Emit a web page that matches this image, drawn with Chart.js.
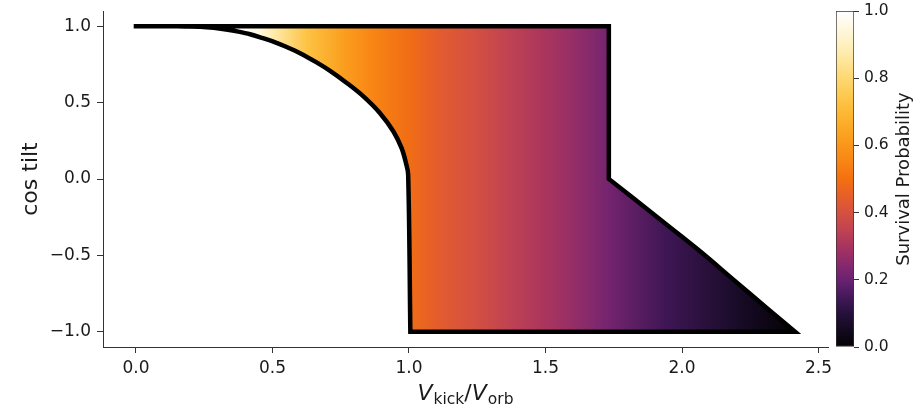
<!DOCTYPE html>
<html>
<head>
<meta charset="utf-8">
<script src="https://cdn.jsdelivr.net/npm/chart.js@4.4.1/dist/chart.umd.min.js"></script>
<style>
  body { margin: 0; background: #fff; }
  #wrap { position: relative; width: 917px; height: 413px; }
  #wrap canvas { position: absolute; top: 0; }
</style>
</head>
<body>
<div id="wrap">
  <canvas id="mainChart" width="917" height="413" style="left:0"></canvas>
  <canvas id="colorBar" width="87" height="413" style="left:830px"></canvas>
</div>
<script>
// outline of the survival region (walked clockwise from the top-left corner);
// corners are listed twice so the smoothed line keeps them sharp
const outlineX = [0.0, 1.732, 1.732, 1.732, 1.732, 1.821, 1.943, 2.065, 2.187, 2.309, 2.414, 2.414, 1.005, 1.005, 0.997, 0.989, 0.973, 0.943, 0.894, 0.833, 0.772, 0.711, 0.66, 0.601, 0.55, 0.51, 0.465, 0.418, 0.375, 0.33, 0.285, 0.235, 0.18, 0.12, 0.06, 0.0];
const outlineY = [1.0, 1.0, 1.0, 0.0, 0.0, -0.124, -0.298, -0.472, -0.657, -0.842, -1.0, -1.0, -1.0, -1.0, 0.03, 0.104, 0.202, 0.311, 0.431, 0.541, 0.629, 0.708, 0.765, 0.824, 0.866, 0.895, 0.922, 0.948, 0.965, 0.979, 0.99, 0.997, 0.999, 1.0, 1.0, 1.0];

// survival probability along V_kick/V_orb (colour of the fill)
const probX = [0.0, 0.40, 0.45, 0.50, 0.625, 0.75, 0.87, 1.0, 1.11, 1.23, 1.36, 1.48, 1.60, 1.72, 1.94, 2.19, 2.414];
const probValue = [1.0, 0.99, 0.95, 0.88, 0.73, 0.63, 0.55, 0.49, 0.44, 0.40, 0.35, 0.31, 0.27, 0.22, 0.14, 0.07, 0.0];

const xTicks = [0.0, 0.5, 1.0, 1.5, 2.0, 2.5];
const yTicks = [-1.0, -0.5, 0.0, 0.5, 1.0];
const cbarTicks = [0.0, 0.2, 0.4, 0.6, 0.8, 1.0];

// colormap (black -> purple -> orange -> white)
const cmapLevels = [0, 0.05, 0.1, 0.15, 0.2, 0.25, 0.3, 0.35, 0.4, 0.45, 0.5, 0.55, 0.6, 0.65, 0.7, 0.75, 0.8, 0.85, 0.9, 0.95, 1.0];
const cmapColors = ['#030104', '#120a1e', '#26103c', '#45185b', '#6a2271', '#8a2a6c', '#a8345f', '#c14352', '#d55140', '#e65f29', '#f4700f',
                    '#f88414', '#fa961a', '#fca824', '#fdb935', '#fdc950', '#fed872', '#fee598', '#fff0bf', '#fff8e2', '#ffffff'];

Chart.defaults.font.family = '"DejaVu Sans"';
Chart.defaults.color = '#1a1a1a';

function hexToRgb(h) {
    return [parseInt(h.slice(1, 3), 16), parseInt(h.slice(3, 5), 16), parseInt(h.slice(5, 7), 16)];
}

function cmap(p) {
    p = Math.max(0, Math.min(1, p));
    for (let i = 1; i < cmapLevels.length; i++) {
        if (p <= cmapLevels[i]) {
            const t = (p - cmapLevels[i - 1]) / (cmapLevels[i] - cmapLevels[i - 1]);
            const a = hexToRgb(cmapColors[i - 1]), b = hexToRgb(cmapColors[i]);
            return "rgb(" + a.map((v, k) => Math.round(v + (b[k] - v) * t)).join(",") + ")";
        }
    }
    return cmapColors[cmapColors.length - 1];
}

function fillGradient(context) {
    const chart = context.chart;
    const xs = chart.scales.x;
    if (!xs || !chart.chartArea) return "rgba(0,0,0,0)";
    const x0 = xs.getPixelForValue(probX[0]);
    const x1 = xs.getPixelForValue(probX[probX.length - 1]);
    const g = chart.ctx.createLinearGradient(x0, 0, x1, 0);
    probX.forEach((x, i) => g.addColorStop((xs.getPixelForValue(x) - x0) / (x1 - x0), cmap(probValue[i])));
    return g;
}

function barGradient(context) {
    const chart = context.chart;
    const ys = chart.scales.y;
    if (!ys || !chart.chartArea) return "rgba(0,0,0,0)";
    const g = chart.ctx.createLinearGradient(0, ys.getPixelForValue(0), 0, ys.getPixelForValue(1));
    cmapLevels.forEach((lv, i) => g.addColorStop(lv, cmapColors[i]));
    return g;
}

const fmt = (v) => v.toFixed(1).replace("-", "\u2212");

// keep the plot box exactly where the layout padding puts it
function fixWidth(w) {
    return (s) => { s.width = w; s.paddingTop = 0; s.paddingBottom = 0; };
}
function fixHeight(h) {
    return (s) => { s.height = h; s.paddingLeft = 0; s.paddingRight = 0; };
}

const axisTitles = {
    id: "axisTitles",
    afterDraw(chart) {
        const { ctx, chartArea: a } = chart;
        ctx.save();
        ctx.fillStyle = "#1a1a1a";
        ctx.textBaseline = "alphabetic";

        // y title, reading upwards
        ctx.save();
        ctx.translate(37, (a.top + a.bottom) / 2);
        ctx.rotate(-Math.PI / 2);
        ctx.font = '22px "DejaVu Sans"';
        ctx.textAlign = "center";
        ctx.fillText("cos tilt", 0, 0);
        ctx.restore();

        // x title: V_kick / V_orb
        const parts = [
            { t: "V", f: 'italic 22px "DejaVu Sans"', dy: 0, gap: 1 },
            { t: "kick", f: '15.5px "DejaVu Sans"', dy: 4, gap: 0 },
            { t: "/", f: '22px "DejaVu Sans"', dy: 0, gap: 0 },
            { t: "V", f: 'italic 22px "DejaVu Sans"', dy: 0, gap: 1 },
            { t: "orb", f: '15.5px "DejaVu Sans"', dy: 4, gap: 0 }
        ];
        let total = 0;
        parts.forEach(p => { ctx.font = p.f; p.w = ctx.measureText(p.t).width + p.gap; total += p.w; });
        let x = (a.left + a.right) / 2 - total / 2;
        ctx.textAlign = "left";
        parts.forEach(p => { ctx.font = p.f; ctx.fillText(p.t, x, 400 + p.dy); x += p.w; });
        ctx.restore();
    }
};

const cbarTitle = {
    id: "cbarTitle",
    afterDraw(chart) {
        const { ctx, chartArea: a } = chart;
        ctx.save();
        ctx.fillStyle = "#1a1a1a";
        ctx.translate(79, (a.top + a.bottom) / 2);
        ctx.rotate(-Math.PI / 2);
        ctx.font = '18px "DejaVu Sans"';
        ctx.textAlign = "center";
        ctx.textBaseline = "alphabetic";
        ctx.fillText("Survival Probability", 0, 0);
        ctx.restore();
    }
};

new Chart(document.getElementById("mainChart"), {
    type: "line",
    data: {
        datasets: [
            {
                data: outlineX.map((x, i) => ({ x: x, y: outlineY[i] })),
                fill: "shape",
                backgroundColor: fillGradient,
                borderColor: "#000",
                borderWidth: 4.5,
                borderJoinStyle: "miter",
                borderCapStyle: "square",
                pointRadius: 0,
                tension: 0.35
            }
        ]
    },
    options: {
        responsive: false,
        animation: false,
        devicePixelRatio: 1,
        layout: { padding: { left: 0, right: 89, top: 11, bottom: 0 } },
        plugins: { legend: { display: false }, tooltip: { enabled: false } },
        scales: {
            x: {
                type: "linear",
                min: -0.1207,
                max: 2.5347,
                afterBuildTicks: (s) => { s.ticks = xTicks.map(v => ({ value: v })); },
                afterFit: fixHeight(66),
                ticks: { font: { size: 17 }, padding: 5, maxRotation: 0, callback: fmt },
                grid: { drawOnChartArea: false, drawTicks: true, tickLength: 6, color: "#333" },
                border: { display: true, color: "#333", width: 1 }
            },
            y: {
                type: "linear",
                min: -1.1,
                max: 1.1,
                afterBuildTicks: (s) => { s.ticks = yTicks.map(v => ({ value: v })); },
                afterFit: fixWidth(103),
                ticks: { font: { size: 17 }, padding: 6, callback: fmt },
                grid: { drawOnChartArea: false, drawTicks: true, tickLength: 6, color: "#333" },
                border: { display: true, color: "#333", width: 1 }
            }
        }
    },
    plugins: [axisTitles]
});

new Chart(document.getElementById("colorBar"), {
    type: "bar",
    data: {
        labels: [""],
        datasets: [
            {
                data: [[0, 1]],
                backgroundColor: barGradient,
                borderColor: "#333",
                borderWidth: 1,
                borderSkipped: false,
                barPercentage: 1,
                categoryPercentage: 1
            }
        ]
    },
    options: {
        responsive: false,
        animation: false,
        devicePixelRatio: 1,
        layout: { padding: { left: 6, right: 0, top: 11, bottom: 66 } },
        plugins: { legend: { display: false }, tooltip: { enabled: false } },
        scales: {
            x: { display: false },
            y: {
                position: "right",
                min: 0,
                max: 1,
                afterBuildTicks: (s) => { s.ticks = cbarTicks.map(v => ({ value: v })); },
                afterFit: fixWidth(63),
                ticks: { font: { size: 15.5 }, padding: 5, callback: fmt },
                grid: { drawOnChartArea: false, drawTicks: true, tickLength: 5, color: "#333" },
                border: { display: false }
            }
        }
    },
    plugins: [cbarTitle]
});
</script>
</body>
</html>
